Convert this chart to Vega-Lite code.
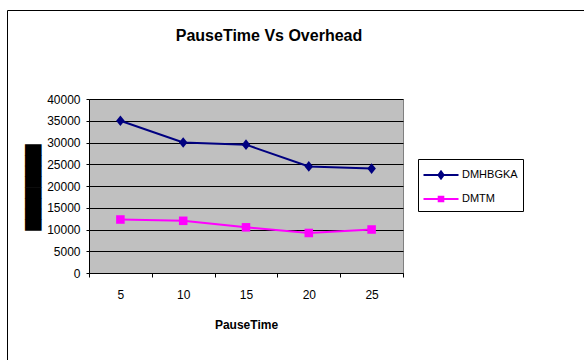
{
  "$schema": "https://vega.github.io/schema/vega-lite/v6.json",
  "width": 314,
  "height": 174,
  "autosize": {"type": "none"},
  "padding": {"left": 89, "top": 99, "right": 181, "bottom": 87},
  "background": "white",
  "title": {
    "text": "PauseTime Vs Overhead",
    "font": "Liberation Sans",
    "fontSize": 16,
    "fontWeight": "bold",
    "color": "#000000",
    "anchor": "middle",
    "frame": "group",
    "dx": 23,
    "baseline": "alphabetic",
    "offset": -47
  },
  "data": {
    "values": [
      {"pause": "5", "series": "DMHBGKA", "overhead": 35000},
      {"pause": "10", "series": "DMHBGKA", "overhead": 30000},
      {"pause": "15", "series": "DMHBGKA", "overhead": 29500},
      {"pause": "20", "series": "DMHBGKA", "overhead": 24500},
      {"pause": "25", "series": "DMHBGKA", "overhead": 24000},
      {"pause": "5", "series": "DMTM", "overhead": 12300},
      {"pause": "10", "series": "DMTM", "overhead": 12000},
      {"pause": "15", "series": "DMTM", "overhead": 10500},
      {"pause": "20", "series": "DMTM", "overhead": 9200},
      {"pause": "25", "series": "DMTM", "overhead": 10000}
    ]
  },
  "encoding": {
    "x": {
      "field": "pause",
      "type": "ordinal",
      "sort": ["5", "10", "15", "20", "25"],
      "scale": {"type": "band", "paddingInner": 0, "paddingOuter": 0},
      "axis": {
        "title": "PauseTime",
        "titleFont": "Liberation Sans",
        "titleFontSize": 12,
        "titleFontWeight": "bold",
        "titleColor": "#000000",
        "titleY": 46,
        "labelAngle": 0,
        "labelFont": "Liberation Sans",
        "labelFontSize": 12,
        "labelColor": "#000000",
        "labelPadding": 12,
        "tickBand": "extent",
        "tickSize": 4,
        "tickColor": "#000000",
        "domainColor": "#000000",
        "grid": false
      }
    },
    "y": {
      "field": "overhead",
      "type": "quantitative",
      "scale": {"domain": [0, 40000], "nice": false},
      "axis": {
        "title": "████████",
        "titleFont": "DejaVu Sans",
        "titleFontSize": 14,
        "titleFontWeight": "normal",
        "titleColor": "#000000",
        "titleAngle": -90,
        "titleBaseline": "middle",
        "titleAlign": "center",
        "titleX": -56,
        "titleY": 88,
        "values": [0, 5000, 10000, 15000, 20000, 25000, 30000, 35000, 40000],
        "format": "d",
        "labelFont": "Liberation Sans",
        "labelFontSize": 12,
        "labelColor": "#000000",
        "labelPadding": 6,
        "tickSize": 3,
        "tickColor": "#000000",
        "domainColor": "#000000",
        "grid": true,
        "gridColor": "#000000",
        "gridWidth": 1
      }
    }
  },
  "layer": [
    {
      "mark": {"type": "line", "strokeWidth": 2},
      "encoding": {
        "color": {
          "field": "series",
          "type": "nominal",
          "scale": {"domain": ["DMHBGKA", "DMTM"], "range": ["#000080", "#FF00FF"]},
          "legend": {
            "title": null,
            "orient": "none",
            "legendX": 329,
            "legendY": 60,
            "strokeColor": "#000000",
            "fillColor": "#FFFFFF",
            "padding": 5,
            "cornerRadius": 0,
            "symbolSize": 400,
            "symbolOffset": 7,
            "symbolStrokeWidth": 2,
            "labelFont": "Liberation Sans",
            "labelFontSize": 11,
            "labelColor": "#000000",
            "labelOffset": 10,
            "rowPadding": 5,
            "encode": {
              "symbols": {
                "update": {
                  "shape": {"signal": "datum.value === 'DMHBGKA' ? 'M-1.75,0H1.75M-0.26,0L0,-0.35L0.26,0L0,0.35Z' : 'M-1.75,0H1.75M-0.23,-0.23H0.23V0.23H-0.23Z'"},
                  "fill": {"signal": "scale('color', datum.value)"},
                  "stroke": {"signal": "scale('color', datum.value)"},
                  "strokeWidth": {"value": 2},
                  "opacity": {"value": 1}
                }
              }
            }
          }
        }
      }
    },
    {
      "transform": [{"filter": "datum.series === 'DMHBGKA'"}],
      "mark": {"type": "point", "filled": true, "opacity": 1, "size": 114, "shape": "M-0.8,0L0,-1L0.8,0L0,1Z", "fill": "#000080"}
    },
    {
      "transform": [{"filter": "datum.series === 'DMTM'"}],
      "mark": {"type": "point", "filled": true, "opacity": 1, "size": 114, "shape": "M-0.8,-0.8H0.8V0.8H-0.8Z", "fill": "#FF00FF"}
    },
    {
      "mark": {"type": "point", "filled": true},
      "encoding": {
        "opacity": {
          "field": "pause",
          "type": "nominal",
          "scale": {"range": [0, 0]},
          "legend": {
            "title": null,
            "orient": "none",
            "legendX": -82,
            "legendY": -89,
            "padding": 300,
            "strokeColor": "#000000",
            "fillColor": "transparent",
            "cornerRadius": 0,
            "labelExpr": "''",
            "labelColor": "transparent",
            "symbolOpacity": 0,
            "symbolSize": 1
          }
        }
      }
    }
  ],
  "config": {
    "view": {"fill": "#C0C0C0", "stroke": "#808080", "strokeWidth": 1},
    "axis": {"domainWidth": 1, "tickWidth": 1}
  }
}
